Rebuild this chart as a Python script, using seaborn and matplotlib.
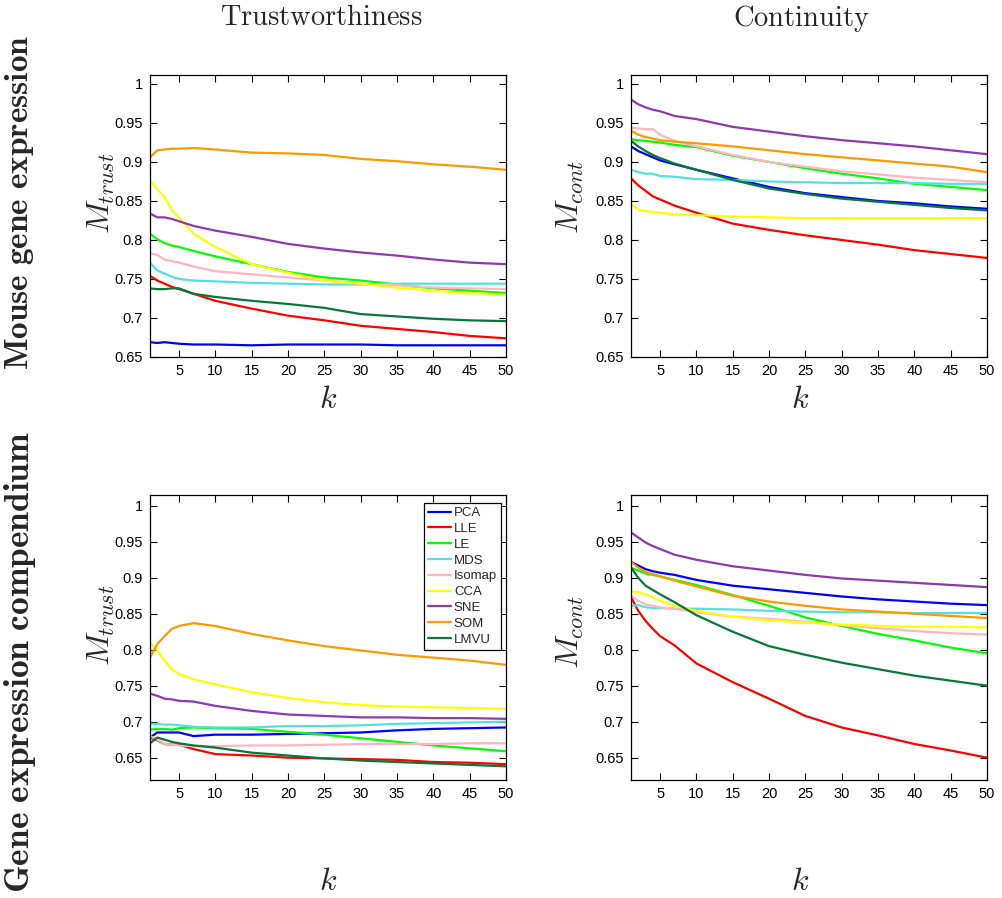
import matplotlib
matplotlib.use("Agg")
import matplotlib.pyplot as plt
import pandas as pd
import seaborn as sns
from matplotlib.ticker import FuncFormatter, MultipleLocator

K = [1, 2, 3, 4, 5, 7, 10, 15, 20, 25, 30, 35, 40, 45, 50]
methods = ["PCA", "LLE", "LE", "MDS", "Isomap", "CCA", "SNE", "SOM", "LMVU"]
colors = ["#0000FF", "#FF0000", "#00FF00", "#55E0E0", "#FFB6C1",
          "#FFFF00", "#8B3BAE", "#FF9900", "#08773A"]

# Mouse gene expression, trustworthiness
trust_mouse = {
    "PCA":    [0.669, 0.668, 0.669, 0.668, 0.667, 0.666, 0.666, 0.665, 0.666, 0.666, 0.666, 0.665, 0.665, 0.665, 0.665],
    "LLE":    [0.754, 0.748, 0.744, 0.740, 0.737, 0.731, 0.722, 0.712, 0.703, 0.697, 0.690, 0.686, 0.682, 0.677, 0.674],
    "LE":     [0.808, 0.801, 0.796, 0.793, 0.791, 0.786, 0.779, 0.769, 0.759, 0.752, 0.748, 0.743, 0.738, 0.735, 0.732],
    "MDS":    [0.771, 0.761, 0.757, 0.753, 0.750, 0.748, 0.747, 0.745, 0.744, 0.743, 0.743, 0.744, 0.744, 0.744, 0.744],
    "Isomap": [0.783, 0.781, 0.775, 0.773, 0.771, 0.766, 0.760, 0.756, 0.752, 0.748, 0.744, 0.742, 0.739, 0.738, 0.737],
    "CCA":    [0.876, 0.865, 0.855, 0.838, 0.829, 0.808, 0.791, 0.769, 0.758, 0.748, 0.744, 0.739, 0.735, 0.732, 0.730],
    "SNE":    [0.834, 0.829, 0.829, 0.827, 0.824, 0.818, 0.812, 0.804, 0.795, 0.789, 0.784, 0.780, 0.775, 0.771, 0.769],
    "SOM":    [0.906, 0.915, 0.916, 0.917, 0.917, 0.918, 0.916, 0.912, 0.911, 0.909, 0.904, 0.901, 0.897, 0.894, 0.890],
    "LMVU":   [0.738, 0.737, 0.737, 0.738, 0.738, 0.731, 0.727, 0.722, 0.718, 0.713, 0.705, 0.702, 0.699, 0.697, 0.696],
}

# Mouse gene expression, continuity
cont_mouse = {
    "PCA":    [0.920, 0.914, 0.910, 0.906, 0.902, 0.897, 0.890, 0.879, 0.868, 0.860, 0.855, 0.850, 0.847, 0.843, 0.840],
    "LLE":    [0.879, 0.870, 0.863, 0.856, 0.852, 0.844, 0.835, 0.821, 0.813, 0.806, 0.800, 0.794, 0.787, 0.782, 0.777],
    "LE":     [0.929, 0.928, 0.927, 0.926, 0.925, 0.922, 0.919, 0.908, 0.900, 0.892, 0.885, 0.879, 0.872, 0.868, 0.864],
    "MDS":    [0.890, 0.887, 0.885, 0.885, 0.882, 0.881, 0.878, 0.877, 0.875, 0.874, 0.873, 0.873, 0.873, 0.872, 0.872],
    "Isomap": [0.944, 0.943, 0.942, 0.942, 0.935, 0.927, 0.920, 0.909, 0.900, 0.894, 0.888, 0.884, 0.880, 0.877, 0.874],
    "CCA":    [0.846, 0.839, 0.837, 0.836, 0.835, 0.833, 0.832, 0.830, 0.829, 0.828, 0.828, 0.828, 0.828, 0.828, 0.828],
    "SNE":    [0.980, 0.974, 0.970, 0.967, 0.965, 0.959, 0.955, 0.945, 0.939, 0.933, 0.928, 0.924, 0.920, 0.915, 0.910],
    "SOM":    [0.940, 0.935, 0.932, 0.930, 0.928, 0.926, 0.924, 0.920, 0.915, 0.910, 0.906, 0.902, 0.898, 0.894, 0.887],
    "LMVU":   [0.927, 0.920, 0.914, 0.909, 0.905, 0.898, 0.890, 0.877, 0.866, 0.859, 0.853, 0.849, 0.845, 0.841, 0.838],
}

# Gene expression compendium, trustworthiness
trust_comp = {
    "PCA":    [0.678, 0.685, 0.685, 0.685, 0.685, 0.680, 0.682, 0.682, 0.683, 0.684, 0.685, 0.688, 0.690, 0.691, 0.692],
    "LLE":    [0.678, 0.674, 0.669, 0.668, 0.668, 0.662, 0.655, 0.653, 0.650, 0.649, 0.648, 0.647, 0.644, 0.643, 0.641],
    "LE":     [0.689, 0.690, 0.690, 0.689, 0.691, 0.692, 0.691, 0.690, 0.686, 0.682, 0.677, 0.672, 0.667, 0.663, 0.659],
    "MDS":    [0.697, 0.697, 0.696, 0.696, 0.695, 0.693, 0.692, 0.692, 0.694, 0.694, 0.695, 0.697, 0.698, 0.699, 0.700],
    "Isomap": [0.680, 0.675, 0.669, 0.668, 0.667, 0.666, 0.666, 0.667, 0.667, 0.668, 0.669, 0.669, 0.669, 0.670, 0.670],
    "CCA":    [0.811, 0.799, 0.785, 0.773, 0.766, 0.759, 0.752, 0.741, 0.733, 0.727, 0.723, 0.721, 0.720, 0.719, 0.718],
    "SNE":    [0.739, 0.736, 0.732, 0.731, 0.729, 0.728, 0.722, 0.715, 0.710, 0.708, 0.706, 0.706, 0.705, 0.705, 0.704],
    "SOM":    [0.789, 0.808, 0.819, 0.829, 0.833, 0.837, 0.833, 0.822, 0.813, 0.805, 0.799, 0.793, 0.789, 0.785, 0.779],
    "LMVU":   [0.670, 0.678, 0.675, 0.672, 0.670, 0.667, 0.664, 0.657, 0.653, 0.649, 0.646, 0.644, 0.642, 0.640, 0.638],
}

# Gene expression compendium, continuity
cont_comp = {
    "PCA":    [0.922, 0.917, 0.912, 0.909, 0.907, 0.904, 0.897, 0.889, 0.884, 0.879, 0.874, 0.870, 0.867, 0.864, 0.862],
    "LLE":    [0.873, 0.854, 0.840, 0.829, 0.819, 0.806, 0.781, 0.755, 0.732, 0.708, 0.692, 0.681, 0.669, 0.660, 0.650],
    "LE":     [0.914, 0.910, 0.906, 0.904, 0.902, 0.897, 0.890, 0.876, 0.861, 0.845, 0.833, 0.822, 0.813, 0.803, 0.795],
    "MDS":    [0.861, 0.862, 0.859, 0.858, 0.858, 0.857, 0.857, 0.856, 0.854, 0.853, 0.852, 0.852, 0.851, 0.851, 0.851],
    "Isomap": [0.875, 0.868, 0.863, 0.861, 0.859, 0.857, 0.852, 0.846, 0.843, 0.839, 0.834, 0.830, 0.826, 0.823, 0.821],
    "CCA":    [0.881, 0.880, 0.877, 0.873, 0.868, 0.861, 0.854, 0.846, 0.841, 0.838, 0.835, 0.833, 0.832, 0.832, 0.831],
    "SNE":    [0.963, 0.956, 0.949, 0.944, 0.940, 0.932, 0.925, 0.916, 0.910, 0.904, 0.899, 0.896, 0.893, 0.890, 0.887],
    "SOM":    [0.922, 0.914, 0.908, 0.905, 0.902, 0.896, 0.888, 0.875, 0.867, 0.861, 0.856, 0.853, 0.850, 0.847, 0.844],
    "LMVU":   [0.914, 0.900, 0.889, 0.883, 0.877, 0.866, 0.848, 0.825, 0.805, 0.793, 0.782, 0.773, 0.764, 0.757, 0.750],
}

sns.set_style("ticks")
plt.rcParams["font.family"] = ["Liberation Sans", "DejaVu Sans"]
plt.rcParams["mathtext.fontset"] = "cm"

palette = dict(zip(methods, colors))


def to_long(panel):
    rows = []
    for m in methods:
        for k, v in zip(K, panel[m]):
            rows.append({"k": k, "value": v, "method": m})
    return pd.DataFrame(rows)


def plot_panel(ax, panel, ylim):
    df = to_long(panel)
    sns.lineplot(data=df, x="k", y="value", hue="method", hue_order=methods,
                 palette=palette, estimator=None, linewidth=1.6, ax=ax, legend=False)
    ax.set_xlim(1, 50)
    ax.set_ylim(*ylim)
    ax.xaxis.set_major_locator(MultipleLocator(5))
    ax.yaxis.set_major_locator(MultipleLocator(0.05))
    ax.yaxis.set_major_formatter(FuncFormatter(lambda v, p: "%g" % round(v, 2)))
    ax.set_xlabel("")
    ax.set_ylabel("")
    ax.tick_params(direction="in", top=True, right=True, length=5, width=0.8,
                   labelsize=10.5, colors="black", pad=5)
    for s in ax.spines.values():
        s.set_color("black")
        s.set_linewidth(0.9)


fig = plt.figure(figsize=(10.03, 8.98), dpi=100)
W, H = 1003, 898


def add_ax(left, top, right, bottom):
    return fig.add_axes([left / W, 1 - bottom / H, (right - left) / W, (bottom - top) / H])


ax_tl = add_ax(150, 75, 506, 357)
ax_tr = add_ax(631, 75, 987, 357)
ax_bl = add_ax(150, 495, 506, 780)
ax_br = add_ax(631, 495, 987, 780)

plot_panel(ax_tl, trust_mouse, (0.65, 1.0115))
plot_panel(ax_tr, cont_mouse, (0.65, 1.0115))
plot_panel(ax_bl, trust_comp, (0.619, 1.015))
plot_panel(ax_br, cont_comp, (0.619, 1.015))

leg = ax_bl.legend(ax_bl.get_lines()[:len(methods)], methods, loc="upper right",
                   bbox_to_anchor=((501 - 150) / 356, (780 - 503) / 285),
                   fontsize=9.5, frameon=True, fancybox=False, edgecolor="black",
                   framealpha=1, borderpad=0.3, labelspacing=0.27, handlelength=1.75,
                   handletextpad=0.2, borderaxespad=0)
leg.get_frame().set_linewidth(0.9)

# column titles
fig.text(321 / W, 1 - 18 / H, r"$\mathrm{Trustworthiness}$", ha="center", va="center", fontsize=20.5)
fig.text(801 / W, 1 - 18 / H, r"$\mathrm{Continuity}$", ha="center", va="center", fontsize=20.5)

# row labels
fig.text(20 / W, 1 - 202 / H, r"$\mathbf{Mouse\ gene\ expression}$", rotation=90,
         ha="center", va="center", fontsize=24)
fig.text(20 / W, 1 - 662 / H, r"$\mathbf{Gene\ expression\ compendium}$", rotation=90,
         ha="center", va="center", fontsize=25.5)

# y labels
fig.text(101 / W, 1 - 193 / H, r"$M_{trust}$", rotation=90, ha="center", va="center", fontsize=23)
fig.text(570 / W, 1 - 197 / H, r"$M_{cont}$", rotation=90, ha="center", va="center", fontsize=23)
fig.text(101 / W, 1 - 625 / H, r"$M_{trust}$", rotation=90, ha="center", va="center", fontsize=23)
fig.text(570 / W, 1 - 632 / H, r"$M_{cont}$", rotation=90, ha="center", va="center", fontsize=23)

# x labels
for x in (328, 800):
    fig.text(x / W, 1 - 400 / H, r"$k$", ha="center", va="center", fontsize=23)
    fig.text(x / W, 1 - 882 / H, r"$k$", ha="center", va="center", fontsize=23)

fig.savefig("out.png", dpi=100)
